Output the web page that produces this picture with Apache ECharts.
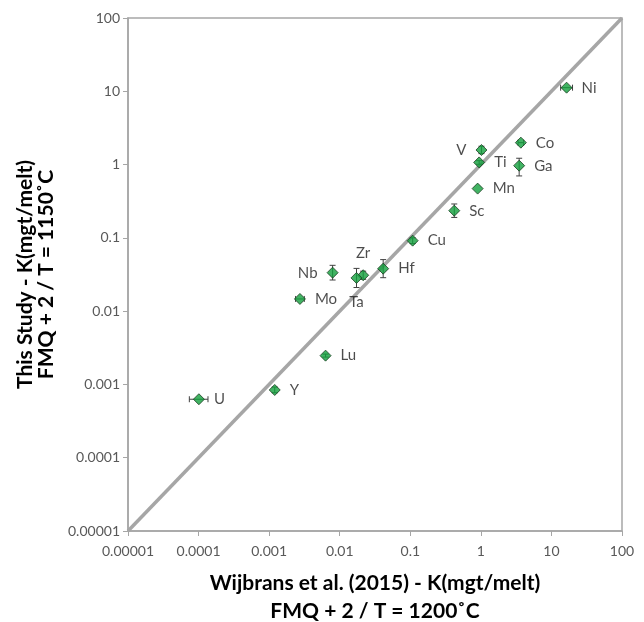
<!DOCTYPE html>
<html>
<head>
<meta charset="utf-8">
<script src="https://cdn.jsdelivr.net/npm/echarts@6/dist/echarts.min.js"></script>
<style>
html,body{margin:0;padding:0;background:#fff}
#main{width:644px;height:622px}
</style>
</head>
<body>
<div id="main"></div>
<script>
// element partition coefficients, magnetite/melt
const elements   = ['Ni','Co','Ga','V','Ti','Mn','Sc','Cu','Hf','Zr','Ta','Nb','Mo','Lu','Y','U'];
const kWijbrans  = [16.4, 3.69, 3.49, 1.02, 0.946, 0.90, 0.42, 0.108, 0.0413, 0.0215, 0.0173, 0.00793, 0.00273, 0.0063, 0.0012, 0.000101];
const kThisStudy = [11.2, 1.99, 0.966, 1.58, 1.07, 0.47, 0.235, 0.0916, 0.038, 0.0309, 0.0284, 0.0335, 0.01466, 0.00247, 0.00084, 0.000628];
// error bars (null = none drawn)
const xErrLow  = [13.5, 3.37, null, null, null, null, null, null, null, null, null, null, 0.00237, null, null, 0.000074];
const xErrHigh = [19.9, 4.04, null, null, null, null, null, null, null, null, null, null, 0.00315, null, null, 0.000136];
const yErrLow  = [null, null, 0.70, 1.41, 1.01, null, 0.19, 0.0835, 0.0286, 0.0272, 0.021, 0.0266, null, 0.00236, 0.00077, null];
const yErrHigh = [null, null, 1.22, 1.78, 1.13, null, 0.29, 0.100, 0.0505, 0.0351, 0.0383, 0.0422, null, 0.00259, 0.00092, null];
const tickLabels = ['0.00001','0.0001','0.001','0.01','0.1','1','10','100'];
const oneToOne = [[0.00001, 0.00001], [100, 100]];

// where each label sits relative to its point
const labelSide = { V: 'left', Nb: 'left', Zr: 'top', Ta: 'bottom' };

const fmt = v => tickLabels[Math.round(Math.log10(v)) + 5];

const myEcharts = echarts.init(document.getElementById('main'));

const points = elements.map((name, i) => ({
    name: name,
    value: [kWijbrans[i], kThisStudy[i]],
    label: {
        position: labelSide[name] || 'right',
        distance: name === 'Ta' ? 11 : 9
    }
}));

const option = {
    animation: false,
    grid: {
        left: 128, right: 22, top: 18, bottom: 91,
        outerBoundsMode: 'none',
        show: true, borderColor: '#A6A6A6', borderWidth: 1.5
    },
    xAxis: {
        type: 'log', logBase: 10, min: 0.00001, max: 100, splitNumber: 7,
        name: 'Wijbrans et al. (2015) - K(mgt/melt)\nFMQ + 2 / T = 1200˚C',
        nameLocation: 'middle', nameGap: 38,
        nameTextStyle: { fontFamily: 'Lato', fontWeight: 'bold', fontSize: 21, color: '#000', lineHeight: 28 },
        axisLine: { lineStyle: { color: '#A6A6A6', width: 1.5 } },
        axisTick: { show: true, length: 5, lineStyle: { color: '#A6A6A6' } },
        axisLabel: { formatter: fmt, color: '#595959', fontSize: 14, fontFamily: 'Lato', margin: 13 },
        splitLine: { show: false }
    },
    yAxis: {
        type: 'log', logBase: 10, min: 0.00001, max: 100, splitNumber: 7,
        name: 'This Study - K(mgt/melt)\nFMQ + 2 / T = 1150˚C',
        nameLocation: 'middle', nameGap: 53,
        nameTextStyle: { fontFamily: 'Lato', fontWeight: 'bold', fontSize: 21, color: '#000', lineHeight: 21 },
        axisLine: { lineStyle: { color: '#A6A6A6', width: 1.5 } },
        axisTick: { show: true, length: 5, lineStyle: { color: '#A6A6A6' } },
        axisLabel: { formatter: fmt, color: '#595959', fontSize: 14, fontFamily: 'Lato', margin: 8 },
        splitLine: { show: false }
    },
    series: [
        {
            type: 'line', data: oneToOne, symbol: 'none', silent: true, z: 1,
            lineStyle: { color: '#A6A6A6', width: 3.5 }
        },
        {
            type: 'custom', z: 2, silent: true,
            data: elements.map((n, i) => [kWijbrans[i], kThisStudy[i]]),
            renderItem: function (params, api) {
                const i = params.dataIndex;
                const x = api.value(0), y = api.value(1);
                const kids = [];
                const style = { stroke: '#404040', lineWidth: 1 };
                const seg = (a, b) => kids.push({ type: 'line', shape: { x1: a[0], y1: a[1], x2: b[0], y2: b[1] }, style: style });
                if (xErrLow[i] != null) {
                    const a = api.coord([xErrLow[i], y]), b = api.coord([xErrHigh[i], y]);
                    seg(a, b);
                    seg([a[0], a[1] - 3], [a[0], a[1] + 3]);
                    seg([b[0], b[1] - 3], [b[0], b[1] + 3]);
                }
                if (yErrLow[i] != null) {
                    const a = api.coord([x, yErrLow[i]]), b = api.coord([x, yErrHigh[i]]);
                    seg(a, b);
                    seg([a[0] - 3, a[1]], [a[0] + 3, a[1]]);
                    seg([b[0] - 3, b[1]], [b[0] + 3, b[1]]);
                }
                return { type: 'group', children: kids };
            }
        },
        {
            type: 'scatter', z: 3,
            symbol: 'diamond', symbolSize: 11,
            itemStyle: { color: '#12A03C', borderColor: '#1B3D22', borderWidth: 1 },
            label: {
                show: true, formatter: '{b}',
                fontFamily: 'Lato', fontSize: 15, color: '#1F1F1F'
            },
            data: points
        }
    ]
};

myEcharts.setOption(option);
window.addEventListener('resize', () => myEcharts.resize());
</script>
</body>
</html>
